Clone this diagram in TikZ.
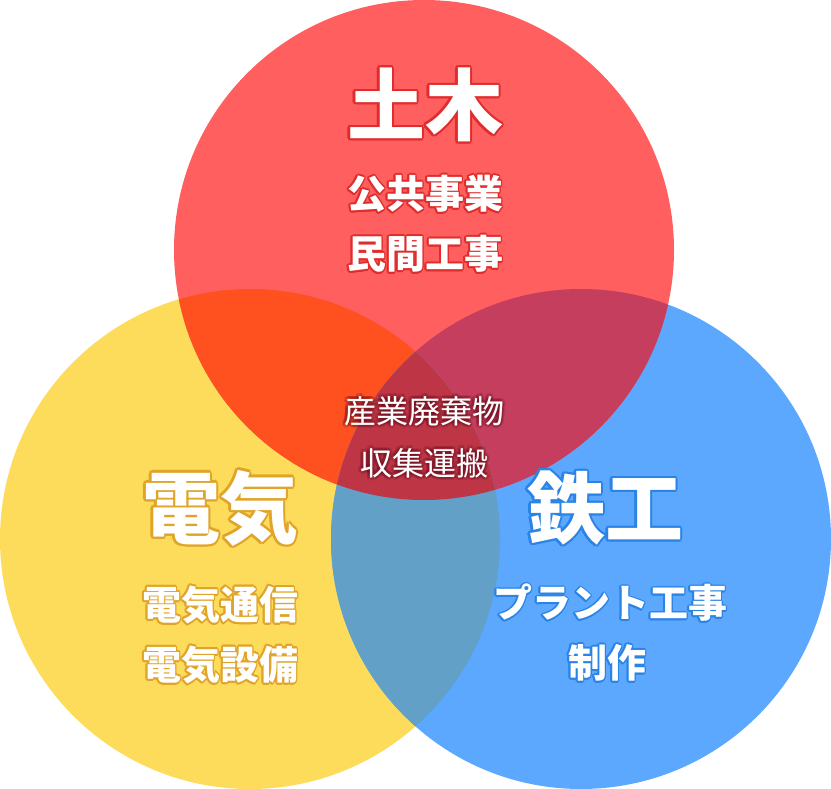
\documentclass[tikz,border=0pt]{standalone}
\usepackage{fontspec}
\newfontfamily\jp{Noto Sans CJK JP}
\definecolor{cRed}{HTML}{FF5F5F}
\definecolor{cYel}{HTML}{FDDC5C}
\definecolor{cBlu}{HTML}{5CA8FF}
\definecolor{cRY}{HTML}{FF5020}
\definecolor{cRB}{HTML}{C53E5E}
\definecolor{cYB}{HTML}{62A0C8}
\definecolor{cAll}{HTML}{BE3545}
\definecolor{oRed}{HTML}{E02C2C}
\definecolor{oYel}{HTML}{E0A428}
\definecolor{oBlu}{HTML}{2A84E6}
\definecolor{oDark}{HTML}{6A1020}
\tikzset{
  big/.style={font=\jp\bfseries\fontsize{78}{84}\selectfont, inner sep=0pt},
  sub/.style={font=\jp\bfseries\fontsize{39}{44}\selectfont, inner sep=0pt},
  mid/.style={font=\jp\fontsize{32}{36}\selectfont, inner sep=0pt},
}
\newcommand\otext[6]{% name, position, style, outline color, radius, text
  \foreach \a in {0,30,...,330}
    \node[#3, text=#4] at ([shift={(\a:#5)}]#2) {#6};
  \node[#3, text=white] (#1) at (#2) {#6};
}
\begin{document}
\begin{tikzpicture}[x=1pt,y=-1pt]
\useasboundingbox (0,0) rectangle (831,789);
\def\RC{(424,250) circle (250)}
\def\YC{(250,539) circle (250)}
\def\BC{(581,539) circle (250)}
\fill[cYel] \YC;
\fill[cBlu] \BC;
\fill[cRed] \RC;
\begin{scope}\clip \RC; \fill[cRY] \YC; \end{scope}
\begin{scope}\clip \RC; \fill[cRB] \BC; \end{scope}
\begin{scope}\clip \YC; \fill[cYB] \BC; \end{scope}
\begin{scope}\clip \RC; \clip \YC; \fill[cAll] \BC; \end{scope}
% red circle texts
\otext{t1}{425,105}{big}{oRed}{2.2}{土木}
\otext{t1a}{425,194}{sub}{oRed}{1.8}{公共事業}
\otext{t1b}{425,254}{sub}{oRed}{1.8}{民間工事}
% yellow circle texts
\otext{t2}{220,508}{big}{oYel}{2.2}{電気}
\otext{t2a}{220,605}{sub}{oYel}{1.8}{電気通信}
\otext{t2b}{220,665}{sub}{oYel}{1.8}{電気設備}
% blue circle texts
\otext{t3}{605,508}{big}{oBlu}{2.2}{鉄工}
\otext{t3a}{610,603}{sub}{oBlu}{1.8}{プラント工事}
\otext{t3b}{607,663}{sub}{oBlu}{1.8}{制作}
% centre texts
\begin{scope}[opacity=0.18]
\otext{sh1}{424,411}{mid}{oDark}{3}{産業廃棄物}
\otext{sh2}{424,463}{mid}{oDark}{3}{収集運搬}
\end{scope}
\node[mid, text=white] (c1) at (424,411) {産業廃棄物};
\node[mid, text=white] (c2) at (424,463) {収集運搬};
\end{tikzpicture}
\end{document}
